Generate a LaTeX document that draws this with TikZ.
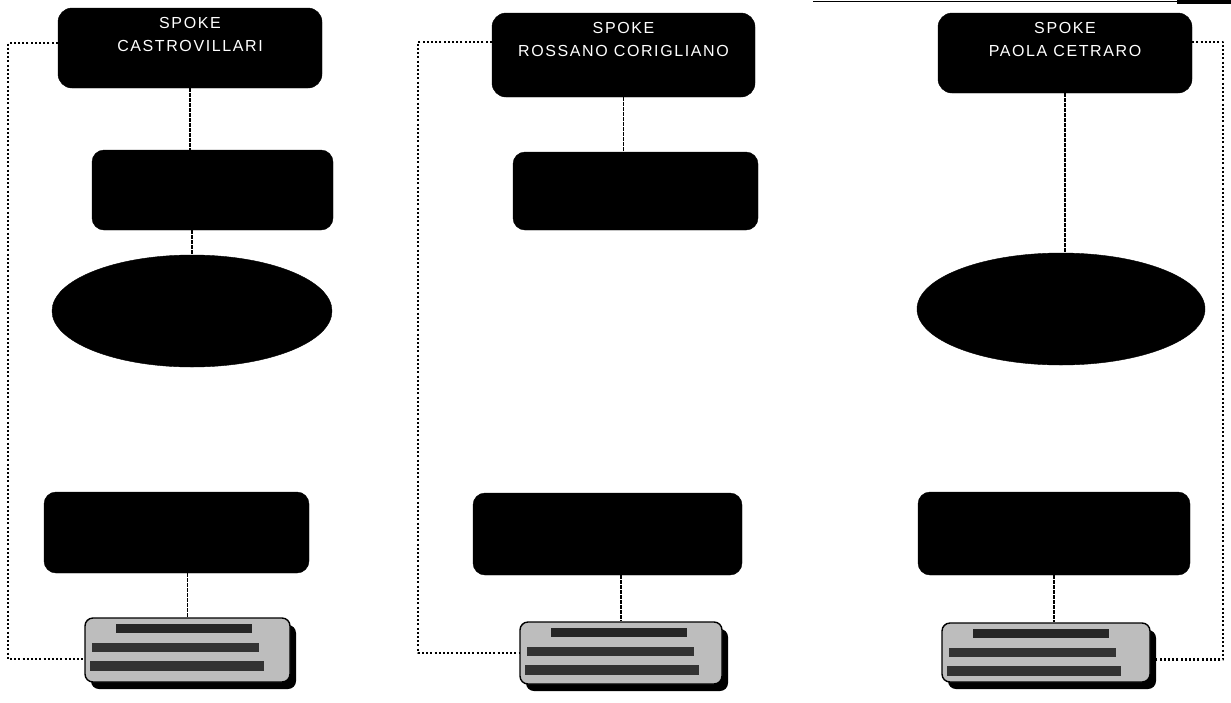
\documentclass[tikz,border=0pt]{standalone}
\usepackage{fontspec}
\setmainfont{Liberation Sans}
\newfontfamily\spokefont[LetterSpace=10]{Liberation Sans}
\usetikzlibrary{calc,positioning,shapes.geometric,shadows}
\definecolor{Ink}{HTML}{000000}
\definecolor{Paper}{HTML}{FFFFFF}
\definecolor{Stone}{HTML}{BDBDBD}
\tikzset{
  spoke/.style={draw=Ink,fill=Ink,rounded corners=14pt,minimum width=264pt,
    minimum height=80pt,inner sep=0pt},
  spokename/.style={text=Paper,font=\spokefont\fontsize{16}{23}\selectfont,
    align=center,anchor=north,yshift=-6pt},
  blackbox/.style={draw=Ink,fill=Ink,rounded corners=12pt,minimum width=242pt,
    minimum height=80pt,inner sep=0pt},
  blackoval/.style={ellipse,draw=Ink,fill=Ink,minimum width=280pt,
    minimum height=112pt,inner sep=0pt},
  lungobox/.style={draw=Ink,line width=1.4pt,fill=Stone,rounded corners=8pt,
    minimum width=205pt,minimum height=64pt,inner sep=0pt,
    drop shadow={shadow xshift=6pt,shadow yshift=-7pt,fill=Ink,opacity=1}},
  linkline/.style={draw=Ink,line width=1.9pt,dash pattern=on 3.5pt off 1.5pt},
  spokeloop/.style={draw=Ink,line width=2.3pt,dash pattern=on 2pt off 2.2pt},
}
% three dark bands of the unreadable lines in a grey box
\newcommand{\lungolines}[1]{%
  \fill[Ink!85] ($(#1.north west)+(32,7)$) rectangle ($(#1.north west)+(168,16)$);
  \fill[Ink!80] ($(#1.north west)+(8,26)$) rectangle ($(#1.north west)+(175,35)$);
  \fill[Ink!80] ($(#1.north west)+(6,44)$) rectangle ($(#1.north west)+(180,54)$);
}
\begin{document}
\begin{tikzpicture}[x=1pt,y=-1pt,line join=round]
  \fill[Paper] (0,0) rectangle (1231,702);
  \useasboundingbox (0,0) rectangle (1231,702);
  % thin rule along the top edge
  \draw[Ink,line width=1.8pt] (813,1.5) -- (1231,1.5);
  \fill[Ink] (1177,0) rectangle (1231,4);

  % Castrovillari
  \node[spoke] (sp1) at (190,48)
    [label={[spokename]north:SPOKE\\CASTROVILLARI}] {};
  \node[blackbox,minimum width=241pt] (ba1) at (212.5,190) {};
  \node[blackoval] (ov1) at (192,311) {};
  \node[blackbox,minimum width=265pt,minimum height=81pt] (bb1) at (176.5,532.5) {};
  \node[lungobox] (lg1) at (187.5,650) {};
  \lungolines{lg1}
  \draw[linkline] (sp1.south) -- (sp1.south |- ba1.north);
  \draw[linkline] (ov1.north |- ba1.south) -- (ov1.north);
  \draw[linkline] (lg1.north |- bb1.south) -- (lg1.north);
  \coordinate (l1) at (8,43);
  \draw[spokeloop] (sp1.west |- l1) -- (l1) |- ([yshift=-9pt]lg1.west);

  % Rossano Corigliano
  \node[spoke,minimum width=263pt,minimum height=84pt] (sp2) at (623.5,55)
    [label={[spokename]north:SPOKE\\ROSSANO CORIGLIANO}] {};
  \node[blackbox,minimum width=245pt,minimum height=78pt] (ba2) at (635.5,191) {};
  \node[blackbox,minimum width=269pt,minimum height=82pt] (bb2) at (607.5,534) {};
  \node[lungobox,minimum width=202pt,minimum height=62pt] (lg2) at (621,653) {};
  \lungolines{lg2}
  \draw[linkline] (sp2.south) -- (sp2.south |- ba2.north);
  \draw[linkline] (lg2.north |- bb2.south) -- (lg2.north);
  \coordinate (l2) at (418,42);
  \draw[spokeloop] (sp2.west |- l2) -- (l2) |- (lg2.west);

  % Paola Cetraro
  \node[spoke,minimum width=254pt] (sp3) at (1065,53)
    [label={[spokename]north:SPOKE\\PAOLA CETRARO}] {};
  \node[blackoval,minimum width=288pt] (ov3) at (1061,309) {};
  \node[blackbox,minimum width=272pt,minimum height=83pt] (bb3) at (1054,533.5) {};
  \node[lungobox,minimum width=208pt,minimum height=59pt] (lg3) at (1046,652.5) {};
  \lungolines{lg3}
  \draw[linkline] (sp3.south) -- (sp3.south |- ov3.north);
  \draw[linkline] (bb3.south) -- (bb3.south |- lg3.north);
  \coordinate (r3) at (1223,42);
  \draw[spokeloop] (sp3.east |- r3) -- (r3) |- ([yshift=-7pt]lg3.east);
\end{tikzpicture}
\end{document}
